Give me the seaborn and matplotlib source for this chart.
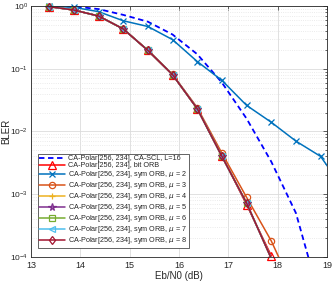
"""BLER vs Eb/N0 for CA-Polar[256, 234] decoders (SCL vs ORB variants)."""

import matplotlib

matplotlib.use("Agg")
import matplotlib.pyplot as plt
import numpy as np
import pandas as pd
import seaborn as sns

# Eb/N0 grid (dB)
ebn0 = [13.37, 13.87, 14.37, 14.87, 15.37, 15.87, 16.37, 16.87, 17.37, 17.87, 18.37, 18.87, 19.37]

bler_scl = [1.0, 0.98, 0.89, 0.72, 0.56, 0.35, 0.17, 0.06, 0.016, 0.0033, 5.0e-4, 2.0e-5]
bler_bit = [0.975, 0.86, 0.69, 0.43, 0.195, 0.080, 0.023, 0.0041, 6.8e-4, 1.05e-4]
bler_sym = {
    2: [0.99, 0.95, 0.81, 0.58, 0.47, 0.29, 0.13, 0.065, 0.026, 0.014, 0.0070, 0.0040, 0.0011],
    3: [0.975, 0.86, 0.69, 0.43, 0.197, 0.081, 0.024, 0.0045, 8.9e-4, 1.8e-4, 2.5e-5],
    4: [0.975, 0.86, 0.69, 0.43, 0.195, 0.080, 0.023, 0.0040, 7.2e-4, 9.5e-5],
    5: [0.975, 0.86, 0.69, 0.43, 0.195, 0.080, 0.023, 0.0040, 7.1e-4, 9.4e-5],
    6: [0.975, 0.86, 0.69, 0.43, 0.195, 0.080, 0.023, 0.0040, 7.2e-4, 9.5e-5],
    7: [0.975, 0.86, 0.69, 0.43, 0.195, 0.080, 0.023, 0.0040, 7.2e-4, 9.6e-5],
    8: [0.975, 0.86, 0.69, 0.43, 0.195, 0.080, 0.023, 0.0040, 7.2e-4, 9.5e-5],
}

SYM_STYLE = {
    2: ("#0072BD", "x"),
    3: ("#D95319", "o"),
    4: ("#EDB120", "+"),
    5: ("#7E2F8E", "*"),
    6: ("#77AC30", "s"),
    7: ("#4DBEEE", "<"),
    8: ("#A2142F", "d"),
}

YMIN, YMAX = 1e-4, 1.0


def draw(ax, x, y, color, marker=None, ls="-", lw=1.1, ms=4.5):
    """Line via seaborn; markers only for points inside the axes (MATLAB style)."""
    df = pd.DataFrame({"ebn0": x[: len(y)], "bler": y})
    sns.lineplot(data=df, x="ebn0", y="bler", ax=ax, color=color, linestyle=ls,
                 linewidth=lw, estimator=None, sort=False)
    line = ax.lines[-1]
    if marker is None:
        return line
    inside = df[df["bler"] >= YMIN * 0.999]
    (marks,) = ax.plot(inside["ebn0"], inside["bler"], linestyle="none", clip_on=False,
                       marker=marker, markersize=ms, markerfacecolor="none",
                       markeredgecolor=color, markeredgewidth=0.9)
    return (line, marks)


def main():
    sns.set_theme(style="white")
    plt.rcParams["font.family"] = ["Liberation Sans", "DejaVu Sans"]

    fig = plt.figure(figsize=(3.33, 2.82), dpi=100)
    ax = fig.add_axes([0.093, 0.089, 0.889, 0.890])

    handles, labels = [], []
    handles.append(draw(ax, ebn0, bler_scl, "#0000FF", ls=(0, (3, 2)), lw=1.3))
    labels.append("CA-Polar[256, 234], CA-SCL, L=16")
    handles.append(draw(ax, ebn0, bler_bit, "#FF0000", marker="^", ms=5.5))
    labels.append("CA-Polar[256, 234], bit ORB")
    for mu, vals in bler_sym.items():
        color, marker = SYM_STYLE[mu]
        ms = 5.5 if marker == "*" else 4.5
        handles.append(draw(ax, ebn0, vals, color, marker=marker, ms=ms))
        labels.append(f"CA-Polar[256, 234], sym ORB, $\\mu$ = {mu}")

    ax.set_yscale("log")
    ax.set_xlim(13, 19)
    ax.set_ylim(YMIN, YMAX)
    ax.set_xticks(np.arange(13, 20, 1))
    ax.set_xlabel("Eb/N0 (dB)", fontsize=7, color="#262626", labelpad=1)
    ax.set_ylabel("BLER", fontsize=7, color="#262626")
    ax.yaxis.set_label_coords(-0.068, 0.5)

    ax.grid(True, which="major", color="#dcdcdc", linewidth=0.6)
    ax.grid(True, which="minor", axis="y", color="#e4e4e4", linestyle=":", linewidth=0.6)
    ax.tick_params(which="both", direction="in", colors="#262626", top=True, right=True)
    ax.tick_params(axis="x", labelsize=6.5, pad=3)
    ax.tick_params(axis="y", labelsize=6, pad=2)
    ax.tick_params(which="major", length=3, width=0.5)
    ax.tick_params(which="minor", length=1.5, width=0.5)
    for sp in ax.spines.values():
        sp.set_color("#262626")
        sp.set_linewidth(0.6)

    leg = ax.legend(handles, labels, loc="lower left", fontsize=5.2, handlelength=3.6,
                    borderpad=0.25, labelspacing=0.0, handletextpad=0.3, fancybox=False,
                    framealpha=1, edgecolor="#262626", bbox_to_anchor=(0.01, 0.02))
    leg.get_frame().set_linewidth(0.5)

    fig.savefig("out.png", dpi=100)
    plt.close(fig)


if __name__ == "__main__":
    main()
